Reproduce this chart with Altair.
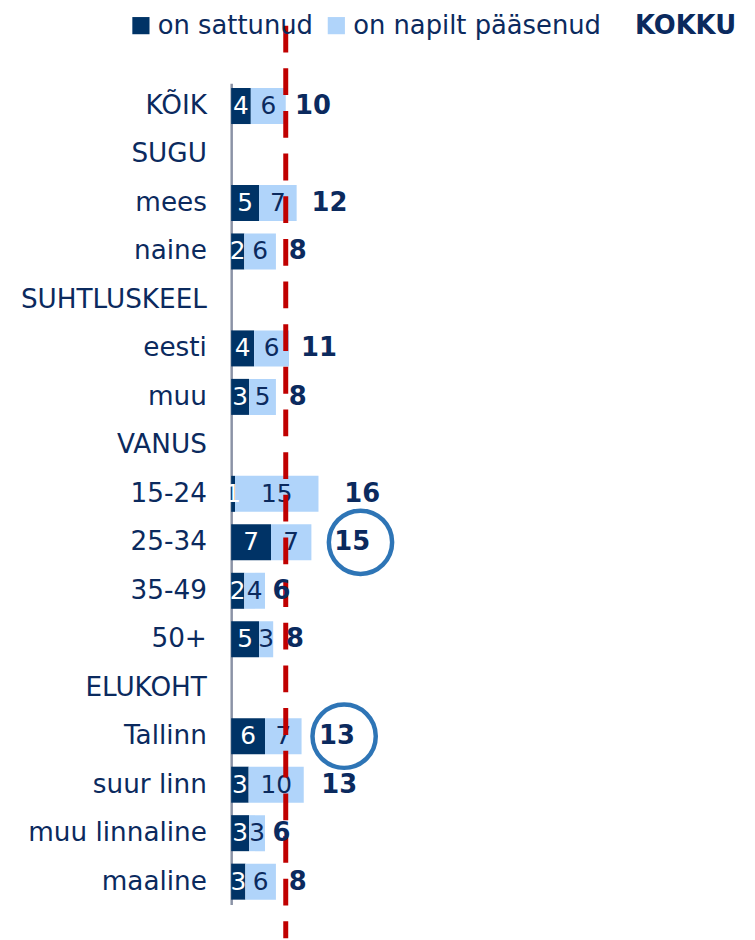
import altair as alt
import pandas as pd

categories = ["KÕIK", "SUGU", "mees", "naine", "SUHTLUSKEEL", "eesti", "muu",
              "VANUS", "15-24", "25-34", "35-49", "50+", "ELUKOHT",
              "Tallinn", "suur linn", "muu linnaline", "maaline"]
sattunud = [3.6, None, 5.1, 2.4, None, 4.2, 3.3, None, 0.7, 7.3, 2.4, 5.1, None, 6.2, 3.2, 3.3, 2.6]
napilt = [6.4, None, 6.9, 5.8, None, 6.4, 4.9, None, 15.3, 7.4, 3.8, 2.6, None, 6.7, 10.1, 2.9, 5.6]
kokku = [10, None, 12, 8, None, 11, 8, None, 16, 15, 6, 8, None, 13, 13, 6, 8]
highlight = ["25-34", "Tallinn"]
series_names = ["on sattunud", "on napilt pääsenud"]
total_title = "KOKKU"

NAVY = "#0b2a5e"
DARK = "#003366"
LIGHT = "#b0d4fa"
RED = "#c00000"
CIRCLE = "#2e75b6"
FONT = "DejaVu Sans"

seg_rows = []
tot_rows = []
for cat, s, n, k in zip(categories, sattunud, napilt, kokku):
    if s is None:
        continue
    seg_rows.append({"cat": cat, "series": series_names[0], "x0": 0, "x1": s, "mid": s / 2, "lab": s})
    seg_rows.append({"cat": cat, "series": series_names[1], "x0": s, "x1": s + n, "mid": s + n / 2, "lab": n})
    tot_rows.append({"cat": cat, "tot": k, "pos": s + n + k / 2, "circ": s + n + 0.6 * k,
                     "hl": cat in highlight})

seg = pd.DataFrame(seg_rows)
tot = pd.DataFrame(tot_rows)
ref = pd.DataFrame({"ref": [kokku[0]]})
title_df = pd.DataFrame({"t": [total_title]})

xscale = alt.Scale(domain=[0, 90], nice=False, zero=True)
yenc = alt.Y("cat:N", sort=categories,
             scale=alt.Scale(domain=categories, paddingInner=0.257, paddingOuter=0.1),
             axis=alt.Axis(title=None, ticks=False, grid=False, domainColor="#8b93a6",
                           domainWidth=2.5, labelFont=FONT, labelFontSize=26.5,
                           labelColor=NAVY, labelPadding=25, labelLimit=400))

bars = alt.Chart(seg).mark_bar().encode(
    x=alt.X("x0:Q", scale=xscale, axis=None),
    x2="x1:Q",
    y=yenc,
    color=alt.Color("series:N", scale=alt.Scale(domain=series_names, range=[DARK, LIGHT]),
                    legend=alt.Legend(title=None, orient="none", legendX=-104, legendY=-71,
                                      direction="horizontal", symbolType="square",
                                      symbolSize=300, symbolStrokeWidth=0, labelFont=FONT,
                                      labelFontSize=26, labelColor=NAVY, labelOffset=4,
                                      labelLimit=0, columnPadding=10, padding=0)),
)

seg_text = alt.Chart(seg).mark_text(font=FONT, fontSize=25, baseline="middle", align="center").encode(
    x=alt.X("mid:Q", scale=xscale),
    y=alt.Y("cat:N", sort=categories),
    text=alt.Text("lab:Q", format=".0f"),
    color=alt.condition(alt.datum.series == series_names[0], alt.value("white"), alt.value(NAVY)),
)

rule = alt.Chart(ref).mark_rule(color=RED, strokeWidth=5, strokeDash=[27, 16]).encode(
    x=alt.X("ref:Q", scale=xscale),
    y=alt.value(-58),
    y2=alt.value(862),
)

tot_text = alt.Chart(tot).mark_text(font=FONT, fontSize=26, fontWeight="bold", color=NAVY,
                                    baseline="middle", align="center").encode(
    x=alt.X("pos:Q", scale=xscale),
    y=alt.Y("cat:N", sort=categories),
    text=alt.Text("tot:Q", format=".0f"),
)

circles = alt.Chart(tot).transform_filter(alt.datum.hl).mark_point(
    shape="circle", filled=False, stroke=CIRCLE, strokeWidth=4.5, size=4070, opacity=1
).encode(
    x=alt.X("circ:Q", scale=xscale),
    y=alt.Y("cat:N", sort=categories),
)

kokku_title = alt.Chart(title_df).mark_text(font=FONT, fontSize=26, fontWeight="bold", color=NAVY,
                                            align="left", baseline="middle").encode(
    text="t:N",
    x=alt.value(407),
    y=alt.value(-58),
)

chart = alt.layer(bars, seg_text, rule, tot_text, circles, kokku_title).properties(
    width=495, height=828,
    padding={"left": 225, "top": 72, "right": 25, "bottom": 32},
    autosize=alt.AutoSizeParams(type="none"),
).configure_view(stroke=None)

chart.save("out.html", embed_options={"renderer": "svg", "actions": False})
